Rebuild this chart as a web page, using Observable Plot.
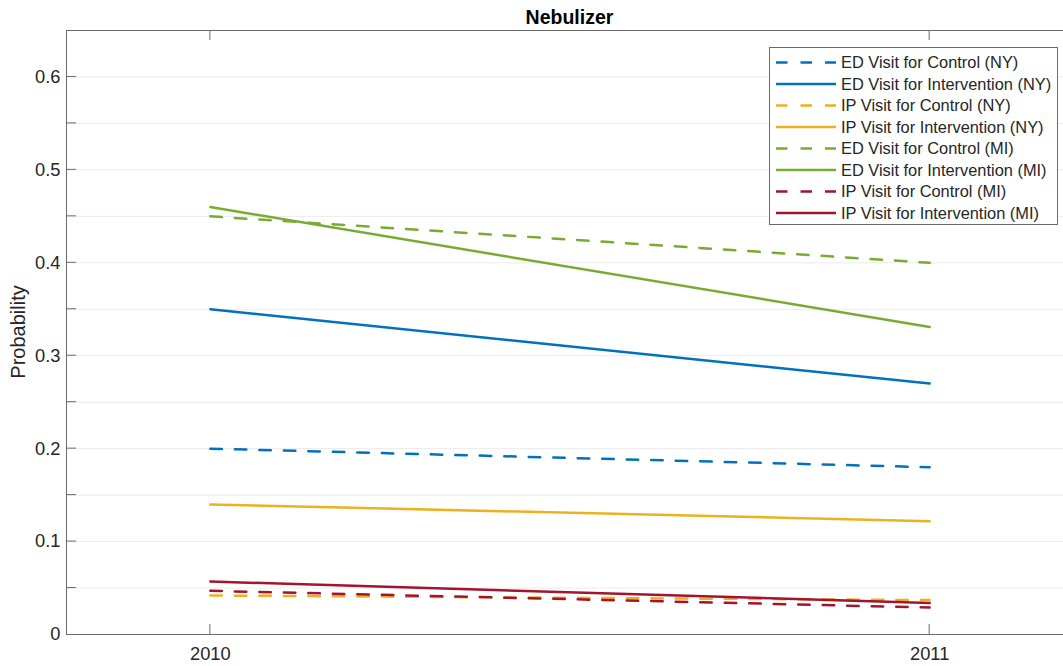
<!DOCTYPE html>
<html><head><meta charset="utf-8">
<script src="https://cdn.jsdelivr.net/npm/d3@7"></script>
<script src="https://cdn.jsdelivr.net/npm/@observablehq/plot@0.6"></script>
<style>html,body{margin:0;padding:0;overflow:hidden;background:#fff}#chart svg{max-width:none !important;}</style>
</head><body><div id="chart"></div>
<script>
// ---- data ----
const years = [2010, 2011];
const seriesNames = [
  "ED Visit for Control (NY)",
  "ED Visit for Intervention (NY)",
  "IP Visit for Control (NY)",
  "IP Visit for Intervention (NY)",
  "ED Visit for Control (MI)",
  "ED Visit for Intervention (MI)",
  "IP Visit for Control (MI)",
  "IP Visit for Intervention (MI)"
];
const seriesColors = ["#0072BD","#0072BD","#EDB120","#EDB120","#77AC30","#77AC30","#A2142F","#A2142F"];
const seriesDashed = [true,false,true,false,true,false,true,false];
const edControlNY       = [0.200, 0.180];
const edInterventionNY  = [0.350, 0.270];
const ipControlNY       = [0.042, 0.037];
const ipInterventionNY  = [0.140, 0.122];
const edControlMI       = [0.450, 0.400];
const edInterventionMI  = [0.460, 0.331];
const ipControlMI       = [0.047, 0.029];
const ipInterventionMI  = [0.057, 0.034];
const seriesValues = [edControlNY, edInterventionNY, ipControlNY, ipInterventionNY,
                      edControlMI, edInterventionMI, ipControlMI, ipInterventionMI];
const xTicks = [2010, 2011];
const xTickLabels = ["2010", "2011"];
const yTicks = [0, 0.1, 0.2, 0.3, 0.4, 0.5, 0.6];
const yTickLabels = ["0", "0.1", "0.2", "0.3", "0.4", "0.5", "0.6"];
const yGrid = [0.05, 0.1, 0.15, 0.2, 0.25, 0.3, 0.35, 0.4, 0.45, 0.5, 0.55, 0.6];
const titleText = "Nebulizer";
const yLabelText = "Probability";

// ---- build rows ----
const rows = [];
seriesNames.forEach((name, i) => {
  years.forEach((yr, j) => rows.push({series: name, idx: i, year: yr, value: seriesValues[i][j]}));
});

const FONT = "'Liberation Sans', Arial, Helvetica, sans-serif";
const axisColor = "#6b6b6b";
const textColor = "#262626";

const lineMarks = seriesNames.map((name, i) =>
  Plot.line(rows.filter(r => r.idx === i), {
    x: "year", y: "value",
    stroke: seriesColors[i], strokeWidth: 2.5,
    strokeDasharray: seriesDashed[i] ? "11.5,13" : null
  })
);

const W = 1080, H = 666;
const plot = Plot.plot({
  width: W, height: H,
  marginLeft: 66, marginRight: 7, marginTop: 30, marginBottom: 32,
  style: {fontFamily: FONT, background: "#fff", maxWidth: "none"},
  x: {type: "linear", domain: [2009.8, 2011.2]},
  y: {domain: [0, 0.65]},
  marks: [
    Plot.ruleY(yGrid, {stroke: "#ebebeb", strokeWidth: 1}),
    ...lineMarks,
    Plot.frame({stroke: axisColor, strokeWidth: 1}),
    Plot.axisX(xTicks, {tickSize: 0, tickPadding: 12, fontSize: 18.3, fill: textColor,
      tickFormat: (d) => xTickLabels[xTicks.indexOf(d)], label: null}),
    Plot.axisY(yTicks, {tickSize: 0, tickPadding: 6, fontSize: 18.3, fill: textColor,
      tickFormat: (d) => yTickLabels[yTicks.indexOf(d)], label: null})
  ]
});
plot.style.maxWidth = "none";
document.getElementById("chart").appendChild(plot);

// ---- decorations: inward ticks, title, y label, legend ----
const svg = d3.select(plot);
const sx = plot.scale("x"), sy = plot.scale("y");
const L = 66, R = W - 7, T = 30, B = H - 32;
const tickLen = 10;
const g = svg.append("g").attr("stroke", axisColor).attr("stroke-width", 1);
yGrid.forEach(v => {
  const y = sy.apply(v);
  g.append("line").attr("x1", L).attr("x2", L + tickLen).attr("y1", y).attr("y2", y);
  g.append("line").attr("x1", R).attr("x2", R - tickLen).attr("y1", y).attr("y2", y);
});
xTicks.forEach(v => {
  const x = sx.apply(v);
  g.append("line").attr("x1", x).attr("x2", x).attr("y1", B).attr("y2", B - tickLen);
  g.append("line").attr("x1", x).attr("x2", x).attr("y1", T).attr("y2", T + tickLen);
});

svg.append("text").attr("x", (L + R) / 2).attr("y", 23.5)
  .attr("text-anchor", "middle").attr("font-family", FONT).attr("font-size", 19.5)
  .attr("font-weight", "bold").attr("fill", "#000").text(titleText);

svg.append("text").attr("transform", `translate(25,${(T + B) / 2}) rotate(-90)`)
  .attr("text-anchor", "middle").attr("font-family", FONT).attr("font-size", 20)
  .attr("fill", textColor).text(yLabelText);

const lg = svg.append("g").attr("text-anchor", "start");
lg.append("rect").attr("x", 769.5).attr("y", 47.5).attr("width", 288).attr("height", 177)
  .attr("fill", "#fff").attr("stroke", axisColor).attr("stroke-width", 1);
seriesNames.forEach((name, i) => {
  const y = 62.5 + i * 21.5;
  lg.append("line").attr("x1", 776).attr("x2", 836).attr("y1", y).attr("y2", y)
    .attr("stroke", seriesColors[i]).attr("stroke-width", 2.5)
    .attr("stroke-dasharray", seriesDashed[i] ? "11.5,13" : null);
  lg.append("text").attr("x", 841).attr("y", y).attr("dy", "0.35em")
    .attr("text-anchor", "start")
    .attr("font-family", FONT).attr("font-size", 16.4).attr("fill", textColor).text(name);
});
</script>
</body></html>
